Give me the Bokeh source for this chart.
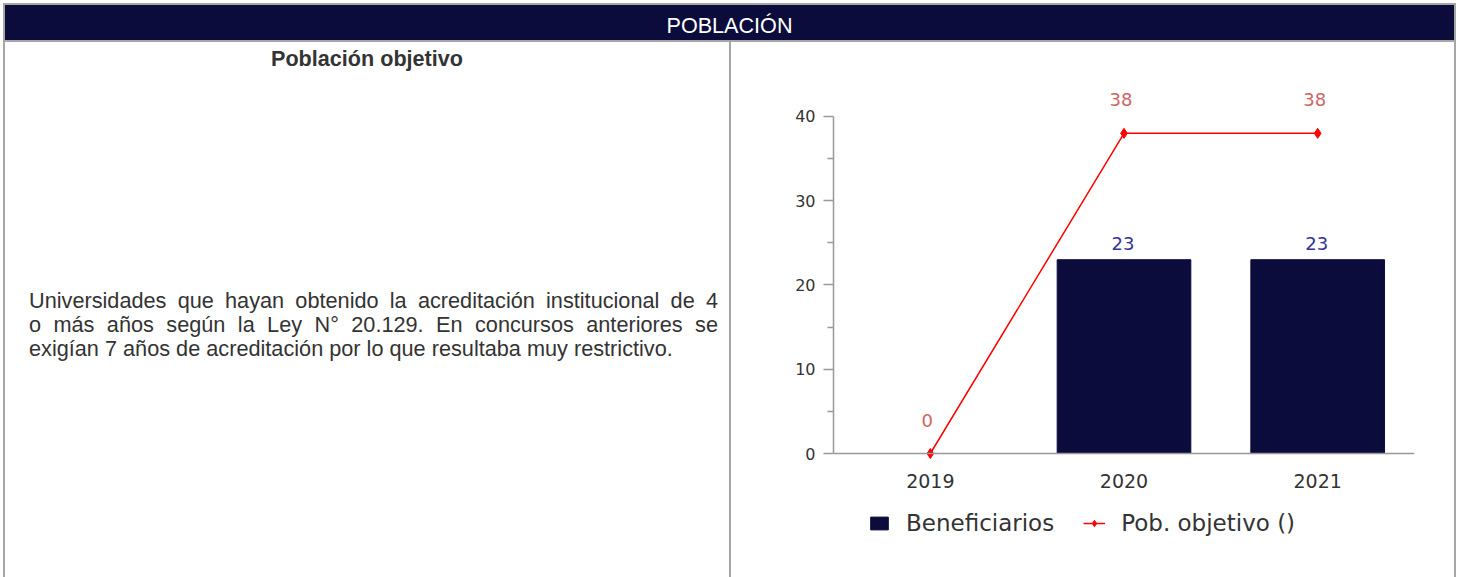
from bokeh.plotting import figure
from bokeh.models import (Range1d, ColumnDataSource, LabelSet, Legend, LegendItem, Div, FixedTicker)
from bokeh.layouts import column, row
from bokeh.core.properties import value
from bokeh.embed import file_html
from bokeh.resources import INLINE

# ---- data ----
years = ["2019", "2020", "2021"]
beneficiarios = [None, 23, 23]
pob_objetivo = [0, 38, 38]
y_ticks = [0, 10, 20, 30, 40]

title_text = "POBLACIÓN"
cell_title = "Población objetivo"
body_lines = [
    "Universidades que hayan obtenido la acreditación institucional de 4",
    "o más años según la Ley N° 20.129. En concursos anteriores se",
    "exigían 7 años de acreditación por lo que resultaba muy restrictivo.",
]

NAVY = "#0b0c3b"
GRAY = "#a6a6a6"
FONT = "'Liberation Sans', Arial, sans-serif"

# ---- header ----
header = Div(
    text=(f'<div style="box-sizing:border-box;width:1453px;height:39px;background:{NAVY};'
          f'border:2px solid {GRAY};color:#fff;font-family:{FONT};'
          f'font-size:21.6px;line-height:24px;text-align:center;padding-top:9px;">{title_text}</div>'),
    width=1453, height=39, margin=0)

H = 535
lines_html = ""
for i, ln in enumerate(body_lines):
    last = "justify" if i < len(body_lines) - 1 else "left"
    lines_html += (f'<div style="white-space:nowrap;text-align:justify;text-align-last:{last};">'
                   f'{ln}</div>')
left = Div(
    text=(f'<div style="box-sizing:border-box;width:728px;height:{H}px;border-left:2px solid {GRAY};'
          f'border-right:2px solid {GRAY};position:relative;font-family:{FONT};color:#333;">'
          f'<div style="position:absolute;top:5px;left:0;width:100%;text-align:center;font-weight:bold;'
          f'font-size:21.6px;line-height:24px;">{cell_title}</div>'
          f'<div style="position:absolute;top:247px;left:24px;width:689px;font-size:21.7px;line-height:24px;">'
          f'{lines_html}</div></div>'),
    width=728, height=H, margin=0)

right_border = Div(text=f'<div style="width:2px;height:{H}px;background:{GRAY};"></div>',
                   width=2, height=H, margin=0)

# ---- chart ----
# frame spans the plot, the value labels above it and the legend strip;
# axis line drawn only over 0..40
Y_LOW, Y_HIGH = -9.85, 44.27
p = figure(x_range=years, y_range=Range1d(Y_LOW, Y_HIGH), frame_width=581, frame_height=456,
           min_border_left=102, min_border_right=40, min_border_top=38, min_border_bottom=0,
           output_backend="svg", toolbar_location=None, margin=0)
p.outline_line_color = None
p.xgrid.grid_line_color = None
p.ygrid.grid_line_color = None
p.x_range.range_padding = 0

bar_src = ColumnDataSource(dict(x=[y for y, v in zip(years, beneficiarios) if v is not None],
                                top=[v for v in beneficiarios if v is not None],
                                lbl=[str(v) for v in beneficiarios if v is not None]))
bars = p.vbar(x="x", top="top", bottom=0, width=0.69, source=bar_src, fill_color=NAVY, line_color=NAVY)

line_src = ColumnDataSource(dict(x=years, y=pob_objetivo, lbl=[str(v) for v in pob_objetivo]))
ln = p.line(x="x", y="y", source=line_src, line_color="#ff0000", line_width=1.5)
pts = p.scatter(x="x", y="y", source=line_src, marker="diamond", size=10, color="#ff0000")

p.add_layout(LabelSet(x="x", y="top", text="lbl", source=bar_src, text_align="center",
                      text_baseline="alphabetic", y_offset=10, x_offset=-1,
                      text_font=value("DejaVu Sans"), text_font_size="18px", text_color="#33339a"))
p.add_layout(LabelSet(x="x", y="y", text="lbl", source=line_src, text_align="center",
                      text_baseline="alphabetic", y_offset=27, x_offset=-3,
                      text_font=value("DejaVu Sans"), text_font_size="18px", text_color="#cc6666"))

# axes
minor = [(a + b) / 2 for a, b in zip(y_ticks[:-1], y_ticks[1:])]
p.yaxis.ticker = FixedTicker(ticks=y_ticks, minor_ticks=minor)
p.yaxis.bounds = (y_ticks[0], y_ticks[-1])
p.xaxis.fixed_location = 0
for ax in (p.xaxis, p.yaxis):
    ax.axis_line_color = "#999999"
    ax.axis_line_width = 1.5
    ax.major_label_text_color = "#333333"
    ax.major_label_text_font = "DejaVu Sans"
p.yaxis.major_tick_line_color = "#999999"
p.yaxis.minor_tick_line_color = "#999999"
p.yaxis.major_tick_line_width = 1.5
p.yaxis.minor_tick_line_width = 1.5
p.yaxis.major_tick_out = 10
p.yaxis.major_tick_in = 0
p.yaxis.minor_tick_out = 6
p.yaxis.minor_tick_in = 0
p.yaxis.major_label_standoff = 8
p.yaxis.major_label_text_font_size = "16px"
p.xaxis.major_tick_line_color = None
p.xaxis.major_tick_out = 0
p.xaxis.major_label_standoff = 20
p.xaxis.major_label_text_font_size = "19px"

legend = Legend(items=[LegendItem(label="Beneficiarios", renderers=[bars]),
                       LegendItem(label="Pob. objetivo ()", renderers=[ln, pts])],
                orientation="horizontal", location=(35, 0),
                padding=0, margin=0, spacing=29, border_line_alpha=0, background_fill_alpha=0,
                label_text_font="DejaVu Sans", label_text_font_size="23px",
                label_text_color="#333333", glyph_height=16, glyph_width=22,
                label_height=16, label_standoff=16)
p.add_layout(legend, "center")

layout = column(header, row(left, p, right_border, spacing=0), spacing=0,
                margin=(3, 0, 0, 3))

open("out.html", "w").write(file_html(layout, INLINE))
